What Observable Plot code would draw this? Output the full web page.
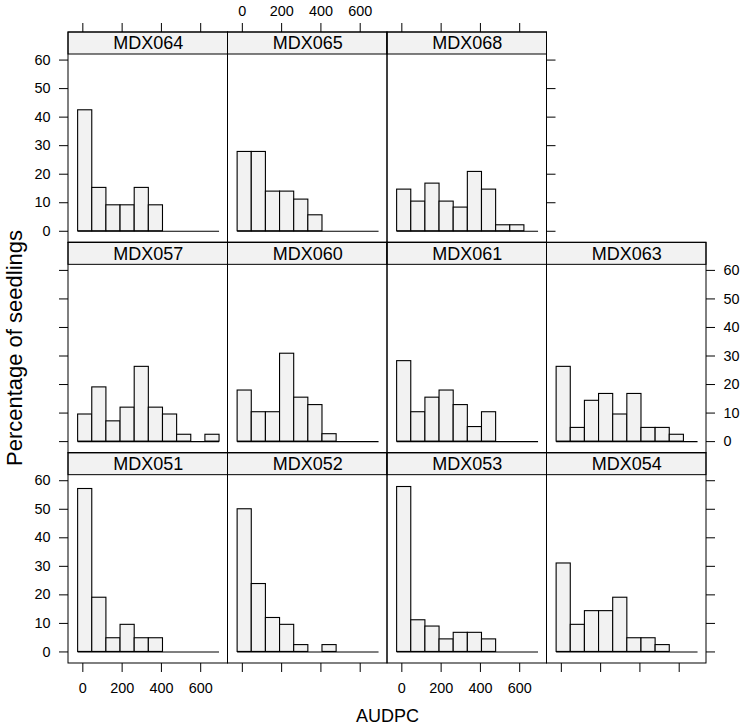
<!DOCTYPE html>
<html>
<head>
<meta charset="utf-8">
<script src="https://cdn.jsdelivr.net/npm/d3@7"></script>
<script src="https://cdn.jsdelivr.net/npm/@observablehq/plot@0.6"></script>
<style>
  html, body { margin: 0; padding: 0; background: white; }
</style>
</head>
<body>
<script>
// ---- data ----
const panelNames = ["MDX064","MDX065","MDX068","MDX057","MDX060","MDX061","MDX063","MDX051","MDX052","MDX053","MDX054"];
const panelCols  = [0, 1, 2, 0, 1, 2, 3, 0, 1, 2, 3];
const panelRows  = [0, 0, 0, 1, 1, 1, 1, 2, 2, 2, 2];
const breaks = [-24, 48, 120, 192, 264, 336, 408, 480, 552, 624, 696];

const pctMDX064 = [42.4, 15.2, 9.1, 9.1, 15.2, 9.1, 0, 0, 0, 0];
const pctMDX065 = [27.8, 27.8, 13.9, 13.9, 11.1, 5.6, 0, 0, 0, 0];
const pctMDX068 = [14.6, 10.4, 16.7, 10.4, 8.3, 20.8, 14.6, 2.1, 2.1, 0];
const pctMDX057 = [9.5, 19.0, 7.1, 11.9, 26.2, 11.9, 9.5, 2.4, 0, 2.4];
const pctMDX060 = [17.9, 10.3, 10.3, 30.8, 15.4, 12.8, 2.6, 0, 0, 0];
const pctMDX061 = [28.2, 10.3, 15.4, 17.9, 12.8, 5.1, 10.3, 0, 0, 0];
const pctMDX063 = [26.2, 4.8, 14.3, 16.7, 9.5, 16.7, 4.8, 4.8, 2.4, 0];
const pctMDX051 = [57.1, 19.0, 4.8, 9.5, 4.8, 4.8, 0, 0, 0, 0];
const pctMDX052 = [50.0, 23.8, 11.9, 9.5, 2.4, 0, 2.4, 0, 0, 0];
const pctMDX053 = [57.8, 11.1, 8.9, 4.4, 6.7, 6.7, 4.4, 0, 0, 0];
const pctMDX054 = [31.0, 9.5, 14.3, 14.3, 19.0, 4.8, 4.8, 2.4, 0, 0];
const panelPcts = [pctMDX064, pctMDX065, pctMDX068, pctMDX057, pctMDX060, pctMDX061, pctMDX063,
                   pctMDX051, pctMDX052, pctMDX053, pctMDX054];

const xTicks = [0, 200, 400, 600];
const yTicks = [0, 10, 20, 30, 40, 50, 60];
const xLabel = "AUDPC";
const yLabel = "Percentage of seedlings";

// which panels carry which axis (lattice alternating axes)
const topAxis    = [{col: 0, row: 0, lab: false}, {col: 1, row: 0, lab: true}, {col: 2, row: 0, lab: false}];
const bottomAxis = [{col: 0, row: 2, lab: true}, {col: 1, row: 2, lab: false}, {col: 2, row: 2, lab: true}, {col: 3, row: 2, lab: false}];
const leftAxis   = [{col: 0, row: 0, lab: true}, {col: 0, row: 1, lab: false}, {col: 0, row: 2, lab: true}];
const rightAxis  = [{col: 2, row: 0, lab: false}, {col: 3, row: 1, lab: true}, {col: 3, row: 2, lab: false}];

// ---- layout ----
const W = 743, H = 727, mL = 68, mR = 37, mT = 32, mB = 64;
const facetH = (H - mT - mB) / 3;
const stripPx = 22;
const tickPx = 9;
const xLo = -73, xHi = 739;
const yLo = -4.05, yHi = 61.95;
const yTop = yHi + stripPx * (yHi - yLo) / (facetH - stripPx);
const xMid = (xLo + xHi) / 2;
const yStripMid = (yHi + yTop) / 2;
const font = "'Liberation Sans', Arial, Helvetica, sans-serif";

// ---- tables ----
const panels = panelNames.map((name, i) => ({name, col: panelCols[i], row: panelRows[i]}));
const bars = panels.flatMap((p, i) =>
  panelPcts[i].map((v, j) => ({...p, x1: breaks[j], x2: breaks[j + 1], pct: v})).filter(d => d.pct > 0));
const expand = (spec, ticks) => spec.flatMap(s => ticks.map(v => ({...s, v})));
const topT = expand(topAxis, xTicks), bottomT = expand(bottomAxis, xTicks);
const leftT = expand(leftAxis, yTicks), rightT = expand(rightAxis, yTicks);

const plot = Plot.plot({
  width: W, height: H,
  marginLeft: mL, marginRight: mR, marginTop: mT, marginBottom: mB,
  fx: {domain: [0, 1, 2, 3], padding: 0, axis: null, round: false},
  fy: {domain: [0, 1, 2], padding: 0, axis: null, round: false},
  x: {domain: [xLo, xHi], axis: null},
  y: {domain: [yLo, yTop], axis: null},
  style: {fontFamily: font, fontSize: "14.4px", color: "black", background: "white"},
  marks: [
    // strips
    Plot.rect(panels, {fx: "col", fy: "row", x1: xLo, x2: xHi, y1: yHi, y2: yTop, fill: "#f2f2f2", stroke: "black", strokeWidth: 1}),
    // histogram bars
    Plot.rect(bars, {fx: "col", fy: "row", x1: "x1", x2: "x2", y1: 0, y2: "pct", fill: "#f2f2f2", stroke: "black", strokeWidth: 1.1}),
    // zero-height bins baseline
    Plot.ruleY(panels, {fx: "col", fy: "row", y: 0, x1: breaks[0], x2: breaks[breaks.length - 1], stroke: "black", strokeWidth: 1.1}),
    // panel frames
    Plot.rect(panels, {fx: "col", fy: "row", x1: xLo, x2: xHi, y1: yLo, y2: yTop, fill: "none", stroke: "black", strokeWidth: 1}),
    // strip labels
    Plot.text(panels, {fx: "col", fy: "row", x: xMid, y: yStripMid, text: "name", fontSize: 18, fill: "black"}),
    // axis ticks
    Plot.ruleX(topT, {fx: "col", fy: "row", x: "v", y1: yTop, y2: yTop, insetTop: -tickPx, stroke: "black"}),
    Plot.ruleX(bottomT, {fx: "col", fy: "row", x: "v", y1: yLo, y2: yLo, insetBottom: -tickPx, stroke: "black"}),
    Plot.ruleY(leftT, {fx: "col", fy: "row", y: "v", x1: xLo, x2: xLo, insetLeft: -tickPx, stroke: "black"}),
    Plot.ruleY(rightT, {fx: "col", fy: "row", y: "v", x1: xHi, x2: xHi, insetRight: -tickPx, stroke: "black"}),
    // axis tick labels
    Plot.text(topT.filter(d => d.lab), {fx: "col", fy: "row", x: "v", y: yTop, dy: -21.5, text: d => String(d.v), fill: "black"}),
    Plot.text(bottomT.filter(d => d.lab), {fx: "col", fy: "row", x: "v", y: yLo, dy: 24.5, text: d => String(d.v), fill: "black"}),
    Plot.text(leftT.filter(d => d.lab), {fx: "col", fy: "row", y: "v", x: xLo, dx: -18, textAnchor: "end", text: d => String(d.v), fill: "black"}),
    Plot.text(rightT.filter(d => d.lab), {fx: "col", fy: "row", y: "v", x: xHi, dx: 17, textAnchor: "start", text: d => String(d.v), fill: "black"}),
    // axis titles
    Plot.text([yLabel], {fx: () => 0, fy: () => 1, frameAnchor: "left", dx: -54, rotate: -90,
      textAnchor: "middle", lineAnchor: "middle", text: d => d, fontSize: 22, fill: "black"}),
    Plot.text([xLabel], {fx: () => 1, fy: () => 2, frameAnchor: "bottom-right", dy: 53,
      textAnchor: "middle", lineAnchor: "middle", text: d => d, fontSize: 18, fill: "black"})
  ]
});
document.body.appendChild(plot);
</script>
</body>
</html>
